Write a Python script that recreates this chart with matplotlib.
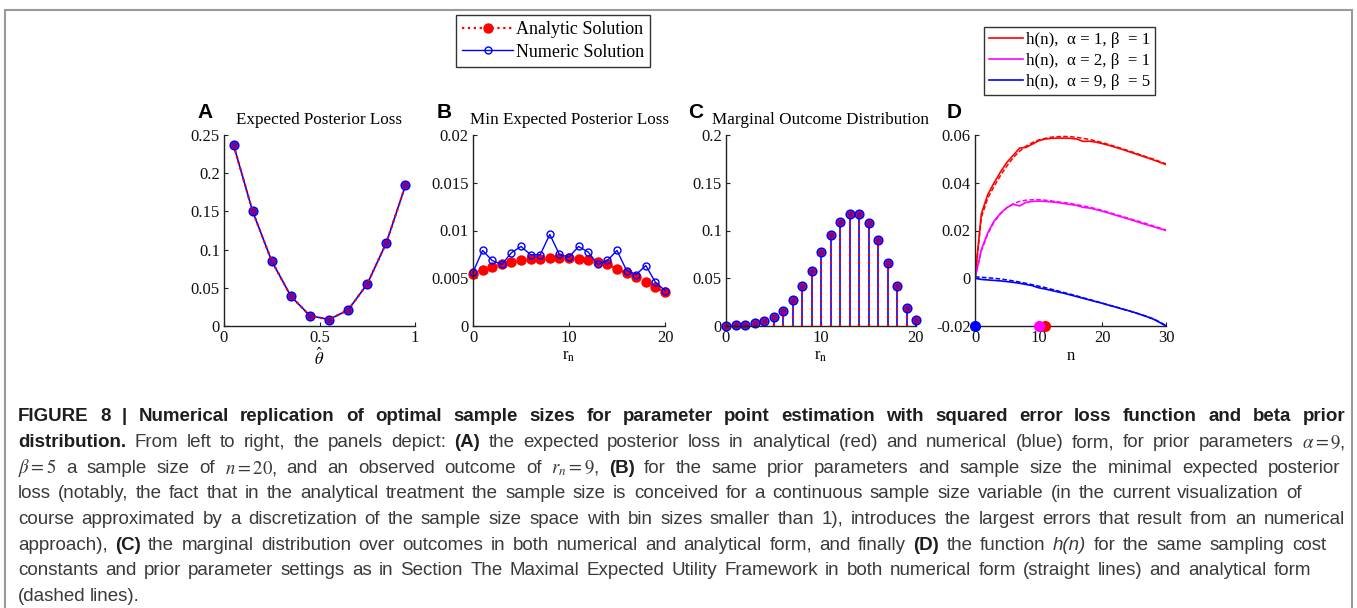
import numpy as np
import matplotlib
matplotlib.use("Agg")
import matplotlib.pyplot as plt
from matplotlib.patches import Rectangle

W, H = 1357, 608

# Panel A: expected posterior loss over the point estimate
theta = [0.05, 0.15, 0.25, 0.35, 0.45, 0.55, 0.65, 0.75, 0.85, 0.95]
loss_analytic = [0.237, 0.150, 0.085, 0.039, 0.0135, 0.0085, 0.021, 0.055, 0.109, 0.184]
loss_numeric = [0.237, 0.150, 0.085, 0.039, 0.0135, 0.0085, 0.021, 0.055, 0.109, 0.184]

# Panel B: minimal expected posterior loss per outcome
r_n = list(range(21))
min_loss_analytic = [0.00546, 0.00588, 0.00616, 0.00644, 0.00672, 0.00686, 0.00697,
                     0.00704, 0.00711, 0.00711, 0.00711, 0.00704, 0.00686, 0.00672,
                     0.00644, 0.00600, 0.00553, 0.00511, 0.00462, 0.00406, 0.00353]
min_loss_numeric = [0.00563, 0.00791, 0.00686, 0.00644, 0.00767, 0.00833, 0.00746,
                    0.00746, 0.00959, 0.00749, 0.00721, 0.00833, 0.00774, 0.00644,
                    0.00686, 0.00791, 0.00581, 0.00539, 0.00633, 0.00458, 0.00371]

# Panel C: marginal outcome distribution
marginal_analytic = [0.0002, 0.0006, 0.0013, 0.0027, 0.005, 0.009, 0.016, 0.027, 0.042,
                     0.058, 0.077, 0.095, 0.109, 0.117, 0.117, 0.108, 0.090, 0.066,
                     0.042, 0.019, 0.006]
marginal_numeric = marginal_analytic

# Panel D: h(n) for three priors, numeric (solid) and analytic (dashed)
n_vals = list(range(31))
h_labels = ["h(n),  α = 1, β  = 1", "h(n),  α = 2, β  = 1", "h(n),  α = 9, β  = 5"]
h_colors = ["#ff0000", "#ff00ff", "#0000ff"]
h_numeric = [
    [0.0, 0.0270, 0.0350, 0.0400, 0.0445, 0.0485, 0.0515, 0.0545, 0.0548, 0.0562, 0.0576,
     0.0583, 0.0586, 0.0587, 0.0587, 0.0586, 0.0583, 0.0573, 0.0574, 0.0570, 0.0564,
     0.0557, 0.0549, 0.0541, 0.0532, 0.0523, 0.0514, 0.0505, 0.0496, 0.0486, 0.0476],
    [0.0, 0.0120, 0.0190, 0.0240, 0.0272, 0.0296, 0.0310, 0.0303, 0.0318, 0.0322, 0.0323,
     0.0322, 0.0320, 0.0317, 0.0313, 0.0309, 0.0305, 0.0297, 0.0294, 0.0288, 0.0281,
     0.0273, 0.0265, 0.0257, 0.0249, 0.0241, 0.0232, 0.0224, 0.0216, 0.0208, 0.0200],
    [0.0, -0.0005, -0.0007, -0.0009, -0.0011, -0.0014, -0.0017, -0.0021, -0.0026, -0.0031,
     -0.0040, -0.0045, -0.0051, -0.0057, -0.0063, -0.0070, -0.0077, -0.0084, -0.0091,
     -0.0098, -0.0105, -0.0113, -0.0120, -0.0128, -0.0135, -0.0143, -0.0152, -0.0161,
     -0.0171, -0.0185, -0.0200],
]
h_analytic = [
    [0.0, 0.0255, 0.0335, 0.0385, 0.0430, 0.0470, 0.0505, 0.0532, 0.0553, 0.0568, 0.0579,
     0.0586, 0.0591, 0.0593, 0.0594, 0.0593, 0.0590, 0.0586, 0.0581, 0.0575, 0.0568,
     0.0560, 0.0552, 0.0544, 0.0535, 0.0526, 0.0517, 0.0508, 0.0499, 0.0489, 0.0479],
    [0.0, 0.0115, 0.0185, 0.0235, 0.0270, 0.0295, 0.0312, 0.0322, 0.0327, 0.0329, 0.0329,
     0.0327, 0.0324, 0.0320, 0.0317, 0.0313, 0.0308, 0.0303, 0.0298, 0.0291, 0.0284,
     0.0276, 0.0268, 0.0260, 0.0252, 0.0244, 0.0236, 0.0228, 0.0219, 0.0211, 0.0202],
    [0.0006, 0.0004, 0.0002, 0.0, -0.0003, -0.0007, -0.0011, -0.0016, -0.0021, -0.0027,
     -0.0033, -0.0039, -0.0046, -0.0053, -0.0060, -0.0067, -0.0074, -0.0082, -0.0089,
     -0.0097, -0.0104, -0.0112, -0.0119, -0.0127, -0.0135, -0.0143, -0.0151, -0.0160,
     -0.0170, -0.0183, -0.0198],
]
optimal_n = [11, 10, 0]

plt.rcParams["font.family"] = ["Liberation Serif", "DejaVu Serif"]
plt.rcParams["mathtext.fontset"] = "stix"

fig = plt.figure(figsize=(W / 100, H / 100), dpi=100)


def px_axes(left, top, right, bottom):
    return fig.add_axes([left / W, 1 - bottom / H, (right - left) / W, (bottom - top) / H])


def style_axes(ax):
    for side in ["top", "right"]:
        ax.spines[side].set_visible(False)
    for side in ["left", "bottom"]:
        ax.spines[side].set_color("#222222")
        ax.spines[side].set_linewidth(1.0)
    ax.tick_params(direction="in", length=3, width=0.8, labelsize=12, pad=3,
                   colors="#222222", labelcolor="#111111")


def fmt(v):
    return "0" if v == 0 else ("%g" % v)


# --- A ---
axA = px_axes(224, 135, 415, 326)
axA.plot(theta, loss_numeric, "-", color="b", lw=1.2, marker="o", ms=6,
         mfc="none", mec="b", mew=1.3, clip_on=False)
axA.plot(theta, loss_analytic, ":", color="r", lw=1.6, marker="o", ms=4,
         mfc="#800080", mec="#800080", clip_on=False)
axA.set_xlim(0, 1)
axA.set_ylim(0, 0.25)
axA.set_xticks([0, 0.5, 1])
axA.set_xticklabels(["0", "0.5", "1"])
axA.set_yticks([0, 0.05, 0.1, 0.15, 0.2, 0.25])
axA.set_yticklabels([fmt(v) for v in [0, 0.05, 0.1, 0.15, 0.2, 0.25]])
axA.set_xlabel(r"$\hat{\theta}$", fontsize=12, labelpad=1)
axA.set_title("Expected Posterior Loss", fontsize=12.3, pad=8)
style_axes(axA)

# --- B ---
axB = px_axes(473, 135, 665, 326)
lineB_a, = axB.plot(r_n, min_loss_analytic, ":", color="r", lw=1.6, marker="o", ms=6.5,
                    mfc="r", mec="r", clip_on=False, label="Analytic Solution")
lineB_n, = axB.plot(r_n, min_loss_numeric, "-", color="b", lw=1.0, marker="o", ms=5,
                    mfc="none", mec="b", mew=1.0, clip_on=False, label="Numeric Solution")
axB.set_xlim(0, 20)
axB.set_ylim(0, 0.02)
axB.set_xticks([0, 10, 20])
axB.set_yticks([0, 0.005, 0.01, 0.015, 0.02])
axB.set_yticklabels([fmt(v) for v in [0, 0.005, 0.01, 0.015, 0.02]])
axB.set_xlabel(r"r$_{\mathrm{n}}$", fontsize=12, labelpad=1)
axB.set_title("Min Expected Posterior Loss", fontsize=12.3, pad=8)
style_axes(axB)

# --- C ---
axC = px_axes(726, 135, 916, 326)
axC.vlines(r_n, 0, marginal_numeric, colors="b", lw=1.2)
axC.vlines(r_n, 0, marginal_analytic, colors="r", linestyles=(0, (1, 2.5)), lw=1.6)
axC.plot(r_n, marginal_numeric, "o", ms=6, mfc="none", mec="b", mew=1.3, clip_on=False)
axC.plot(r_n, marginal_analytic, "o", ms=4, mfc="#800080", mec="#a00060", clip_on=False)
axC.set_xlim(0, 20)
axC.set_ylim(0, 0.2)
axC.set_xticks([0, 10, 20])
axC.set_yticks([0, 0.05, 0.1, 0.15, 0.2])
axC.set_yticklabels([fmt(v) for v in [0, 0.05, 0.1, 0.15, 0.2]])
axC.set_xlabel(r"r$_{\mathrm{n}}$", fontsize=12, labelpad=1)
axC.set_title("Marginal Outcome Distribution", fontsize=12.3, pad=8)
style_axes(axC)

# --- D ---
axD = px_axes(975, 135, 1166, 326)
h_handles = []
for num, ana, col, lab in zip(h_numeric, h_analytic, h_colors, h_labels):
    ln, = axD.plot(n_vals, num, "-", color=col, lw=1.2, label=lab)
    axD.plot(n_vals, ana, "--", color=col, lw=1.1, dashes=(3, 1.5))
    h_handles.append(ln)
for n_opt, col in zip(optimal_n, h_colors):
    axD.plot([n_opt], [-0.02], "o", ms=7, color=col, clip_on=False, zorder=5)
axD.set_xlim(0, 30)
axD.set_ylim(-0.02, 0.06)
axD.set_xticks([0, 10, 20, 30])
axD.set_yticks([-0.02, 0, 0.02, 0.04, 0.06])
axD.set_yticklabels(["-0.02", "0", "0.02", "0.04", "0.06"])
axD.set_xlabel("n", fontsize=12, labelpad=1)
style_axes(axD)

# panel letters
for letter, x, y in [("A", 197, 113), ("B", 437, 113), ("C", 688, 113), ("D", 947, 112)]:
    fig.text(x / W, 1 - y / H, letter, fontsize=15, fontweight="bold",
             family=["Liberation Sans", "DejaVu Sans"], va="center", ha="left")

# legends
leg1 = fig.legend(handles=[lineB_a, lineB_n], loc="upper left",
                  bbox_to_anchor=(456 / W, 1 - 15 / H), fontsize=13, frameon=True,
                  fancybox=False, edgecolor="black", borderpad=0.35, handlelength=2.8,
                  handletextpad=0.15, labelspacing=0.3, borderaxespad=0)
leg1.get_frame().set_linewidth(1.0)
leg2 = fig.legend(handles=h_handles, loc="upper left",
                  bbox_to_anchor=(984 / W, 1 - 27 / H), fontsize=12.2, frameon=True,
                  fancybox=False, edgecolor="black", borderpad=0.3, handlelength=2.0,
                  handletextpad=0.15, labelspacing=0.3, borderaxespad=0)
leg2.get_frame().set_linewidth(1.0)

# frame around the figure
fig.add_artist(Rectangle((5 / W, -0.01), (1352 - 5) / W, 1 - 10 / H + 0.01,
                         transform=fig.transFigure, fill=False, edgecolor="#9a9a9a", lw=1.5))

# caption, laid out word by word so each line ends at its own right edge
cap_family = ["Liberation Sans Narrow", "Liberation Sans", "DejaVu Sans"]
cap_styles = {
    "b": dict(fontweight="bold", color="#1e1e1e"),
    "r": dict(color="#3a3a3a"),
    "i": dict(fontstyle="italic", color="#3a3a3a"),
    "m": dict(color="#3a3a3a"),
}
caption = [
    (421, 1345, [("FIGURE 8 | Numerical replication of optimal sample sizes for parameter "
                  "point estimation with squared error loss function and beta prior", "b")]),
    (447, 1345, [("distribution.", "b"), ("From left to right, the panels depict:", "r"),
                 ("(A)", "b"), ("the expected posterior loss in analytical (red) and numerical "
                               "(blue) form, for prior parameters", "r"),
                 (r"$\alpha = 9$,", "m")]),
    (473, 1340, [(r"$\beta = 5$", "m"), ("a sample size of", "r"), (r"$n = 20$,", "m"),
                 ("and an observed outcome of", "r"), (r"$r_n = 9$,", "m"), ("(B)", "b"),
                 ("for the same prior parameters and sample size the minimal expected "
                  "posterior", "r")]),
    (498, 1302, [("loss (notably, the fact that in the analytical treatment the sample size is "
                  "conceived for a continuous sample size variable (in the current "
                  "visualization of", "r")]),
    (524, 1345, [("course approximated by a discretization of the sample size space with bin "
                  "sizes smaller than 1), introduces the largest errors that result from an "
                  "numerical", "r")]),
    (550, 1326, [("approach),", "r"), ("(C)", "b"),
                 ("the marginal distribution over outcomes in both numerical and analytical "
                  "form, and finally", "r"), ("(D)", "b"), ("the function", "r"),
                 ("h(n)", "i"), ("for the same sampling cost", "r")]),
    (575, 1311, [("constants and prior parameter settings as in Section The Maximal Expected "
                  "Utility Framework in both numerical form (straight lines) and analytical "
                  "form", "r")]),
    (601, None, [("(dashed lines).", "r")]),
]

renderer = fig.canvas.get_renderer()
x_start = 18
for y, x_end, segments in caption:
    words = []
    for text, key in segments:
        if key == "m":
            words.append((text, key))
        else:
            words.extend((w, key) for w in text.split(" "))
    texts = [fig.text(x_start / W, 1 - y / H, w, fontsize=13.5, family=cap_family,
                      va="baseline", ha="left", **cap_styles[k]) for w, k in words]
    widths = [t.get_window_extent(renderer).width for t in texts]
    if x_end is None:
        gap = 4.5
    else:
        gap = (x_end - x_start - sum(widths)) / (len(texts) - 1)
    x = x_start
    for t, w in zip(texts, widths):
        t.set_x(x / W)
        x += w + gap

fig.savefig("out.png", dpi=100)
